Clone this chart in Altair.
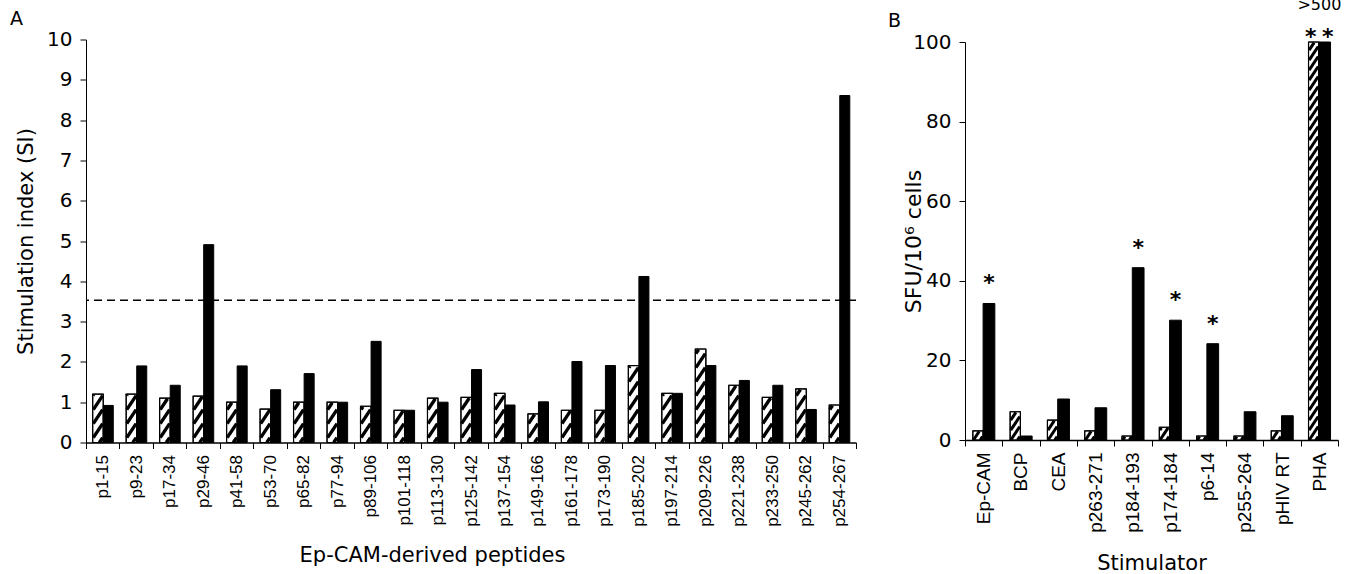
import altair as alt
import pandas as pd

# ---------------- data ----------------
peptides = ["p1-15", "p9-23", "p17-34", "p29-46", "p41-58", "p53-70", "p65-82",
            "p77-94", "p89-106", "p101-118", "p113-130", "p125-142", "p137-154",
            "p149-166", "p161-178", "p173-190", "p185-202", "p197-214", "p209-226",
            "p221-238", "p233-250", "p245-262", "p254-267"]
si_hatched = [1.2, 1.2, 1.1, 1.15, 1.0, 0.83, 1.0, 1.0, 0.9, 0.8, 1.1, 1.12,
              1.22, 0.71, 0.8, 0.8, 1.91, 1.22, 2.32, 1.42, 1.12, 1.33, 0.93]
si_black = [0.92, 1.9, 1.42, 4.91, 1.9, 1.31, 1.71, 1.0, 2.51, 0.8, 1.0, 1.81,
            0.93, 1.01, 2.01, 1.91, 4.12, 1.22, 1.91, 1.54, 1.42, 0.82, 8.61]
si_cutoff = 3.53

stimulators = ["Ep-CAM", "BCP", "CEA", "p263-271", "p184-193", "p174-184",
               "p6-14", "p255-264", "pHIV RT", "PHA"]
sfu_hatched = [2.3, 7.1, 5.0, 2.3, 1.0, 3.2, 1.0, 1.0, 2.3, 100]
sfu_black = [34.3, 1.0, 10.3, 8.1, 43.3, 30.1, 24.2, 7.1, 6.1, 100]
star_hatched = [False, False, False, False, False, False, False, False, False, True]
star_black = [True, False, False, False, True, True, True, False, False, True]
pha_note = ">500"

# ---------------- geometry / style ----------------
WA, HA = 770, 403
WB, HB = 373, 398
OFF_A = (-0.30, 0.015, 0.315)
OFF_B = (-0.29, -0.015, 0.30)
AX_FONT = "DejaVu Sans"
LBL_FONT = "Liberation Sans"


def bar_table(cats, hat, blk, offs):
    rows = []
    for i, c in enumerate(cats):
        rows.append(dict(cat=c, series="hatched", x0=i + offs[0], x1=i + offs[1], v=hat[i], base=0))
        rows.append(dict(cat=c, series="black", x0=i + offs[1], x1=i + offs[2], v=blk[i], base=0))
    return pd.DataFrame(rows)


def stripe_table(values, offs, ymax, W, H, period, slope, inset=0.6):
    n = len(values)
    bw = W / n
    rows = []
    for i, v in enumerate(values):
        left = (i + 0.5 + offs[0]) * bw + inset
        right = (i + 0.5 + offs[1]) * bw - inset
        w = right - left
        h = min(v, ymax) / ymax * H - inset
        c = -slope * w + period * 0.35
        while c < h:
            xa = max(0.0, (0.0 - c) / slope)
            xb = min(w, (h - c) / slope)
            if xb > xa:
                ya = slope * xa + c
                yb = slope * xb + c
                rows.append(dict(sx=(left + xa) / bw - 0.5, sx2=(left + xb) / bw - 0.5,
                                 sy=ya / H * ymax, sy2=yb / H * ymax))
            c += period
    return pd.DataFrame(rows)


def xq(field, n):
    return alt.X(field, type="quantitative",
                 scale=alt.Scale(domain=[-0.5, n - 0.5], nice=False, zero=False), axis=None)


def yq(field, ymax, axis=None):
    # axis left unspecified on secondary layers so the shared y axis is not disabled
    kw = dict(type="quantitative", scale=alt.Scale(domain=[0, ymax], nice=False, clamp=True))
    if axis is None:
        return alt.Y(field, **kw)
    return alt.Y(field, axis=axis, **kw)


def panel(cats, hat, blk, offs, ymax, W, H, yvals, ytitle, ytitle_size, xtitle,
          xtitle_size, xlabel_size, xtitle_x, xtitle_y, ytitle_x, period, slope, sw):
    n = len(cats)
    bars = bar_table(cats, hat, blk, offs)
    stripes = stripe_table(hat, offs, ymax, W, H, period, slope)

    axis_layer = alt.Chart(pd.DataFrame({"cat": cats})).mark_bar(opacity=0).encode(
        x=alt.X("cat:N", sort=cats,
                scale=alt.Scale(type="band", paddingInner=0, paddingOuter=0),
                axis=alt.Axis(title=xtitle, tickBand="extent", labelAngle=-90,
                              labelFont=LBL_FONT, labelFontSize=xlabel_size,
                              labelColor="black", labelPadding=6, tickSize=6,
                              tickColor="black", domainColor="black", domainWidth=1.5,
                              titleFont=AX_FONT, titleFontSize=xtitle_size,
                              titleFontWeight="normal", titleColor="black",
                              titleX=xtitle_x, titleY=xtitle_y,
                              titleBaseline="alphabetic", titleAlign="center"))
    )

    yaxis = alt.Axis(values=yvals, title=ytitle, grid=False, tickSize=6, tickColor="black",
                     domainColor="black", labelFont=AX_FONT, labelFontSize=20,
                     labelColor="black", labelPadding=8, titleFont=AX_FONT,
                     titleFontSize=ytitle_size, titleFontWeight="normal",
                     titleColor="black", titleX=ytitle_x, titleY=H / 2,
                     titleBaseline="alphabetic", titleAngle=270, titleAlign="center")

    bar_layer = alt.Chart(bars).mark_rect(stroke="black", strokeWidth=1).encode(
        x=xq("x0", n), x2="x1:Q",
        y=yq("v", ymax, yaxis), y2="base:Q",
        fill=alt.Fill("series:N", scale=alt.Scale(domain=["hatched", "black"],
                                                 range=["white", "black"]), legend=None),
    )
    stripe_layer = alt.Chart(stripes).mark_rule(stroke="black", strokeWidth=sw).encode(
        x=xq("sx", n), x2="sx2:Q", y=yq("sy", ymax), y2="sy2:Q")
    outline_layer = alt.Chart(bars[bars.series == "hatched"]).mark_rect(
        fillOpacity=0, stroke="black", strokeWidth=1.2).encode(
        x=xq("x0", n), x2="x1:Q", y=yq("v", ymax), y2="base:Q")
    return n, [axis_layer, bar_layer, stripe_layer, outline_layer]


# ---------------- panel A ----------------
nA, layersA = panel(peptides, si_hatched, si_black, OFF_A, 10, WA, HA, list(range(0, 11)),
                    "Stimulation index (SI)", 21, "Ep-CAM-derived peptides", 21, 17,
                    346, 119, -54, 14, 1.5, 3.4)
cutoff = alt.Chart(pd.DataFrame({"c": [si_cutoff]})).mark_rule(
    stroke="black", strokeWidth=1.3, strokeDash=[8, 5]).encode(y=yq("c", 10))
letterA = alt.Chart(pd.DataFrame({"t": ["A"]})).mark_text(
    font=AX_FONT, fontSize=19, align="left", baseline="alphabetic", color="black").encode(
    text="t:N", x=alt.value(-76), y=alt.value(-15))
chartA = alt.layer(*layersA, cutoff, letterA).resolve_scale(x="independent").properties(
    width=WA, height=HA)

# ---------------- panel B ----------------
nB, layersB = panel(stimulators, sfu_hatched, sfu_black, OFF_B, 100, WB, HB,
                    list(range(0, 101, 20)), "SFU/10\u2076 cells", 22, "Stimulator", 21, 19,
                    WB / 2, 129, -45, 10, 1.5, 3.0)

star_rows = []
for i, c in enumerate(stimulators):
    if star_hatched[i]:
        star_rows.append(dict(x=i + (OFF_B[0] + OFF_B[1]) / 2, v=sfu_hatched[i],
                              grp="clipH" if sfu_hatched[i] >= 100 else "bar"))
    if star_black[i]:
        star_rows.append(dict(x=i + (OFF_B[1] + OFF_B[2]) / 2, v=sfu_black[i],
                              grp="clipB" if sfu_black[i] >= 100 else "bar"))
stars = pd.DataFrame(star_rows)
stars["t"] = "*"


def star_layer(grp, dy, dx):
    return alt.Chart(stars[stars.grp == grp]).mark_text(
        font=AX_FONT, fontSize=22, fontWeight="bold", baseline="alphabetic",
        dy=dy, dx=dx, color="black").encode(x=xq("x", nB), y=yq("v", 100), text="t:N")


note = alt.Chart(pd.DataFrame({"x": [stimulators.index("PHA")], "v": [100], "t": [pha_note]})
                 ).mark_text(font=AX_FONT, fontSize=16, baseline="alphabetic", dy=-32,
                             color="black").encode(x=xq("x", nB), y=yq("v", 100), text="t:N")
letterB = alt.Chart(pd.DataFrame({"t": ["B"]})).mark_text(
    font=AX_FONT, fontSize=19, align="left", baseline="alphabetic", color="black").encode(
    text="t:N", x=alt.value(-77), y=alt.value(-15))
chartB = alt.layer(*layersB, star_layer("bar", -13, 0), star_layer("clipH", 2, -3),
                   star_layer("clipB", 2, 3), note, letterB).resolve_scale(
    x="independent").properties(width=WB, height=HB)

chart = alt.hconcat(chartA, chartB, spacing=109, bounds="flush", center=True).properties(
    padding={"left": 10, "top": -3.5, "right": 5, "bottom": 0}, background="white"
).configure_view(stroke=None)

chart.save("out.html", embed_options={"renderer": "svg", "actions": False})
